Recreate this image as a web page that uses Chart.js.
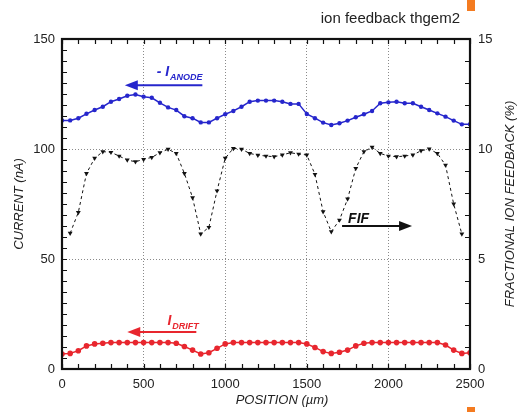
<!DOCTYPE html>
<html>
<head>
<meta charset="utf-8">
<script src="https://cdn.jsdelivr.net/npm/chart.js@4.4.1/dist/chart.umd.min.js"></script>
<style>
    body { margin: 0; background: #fff; }
    #wrap { position: relative; width: 521px; height: 412px; }
    .mark { position: absolute; left: 467px; width: 8px; background: #f47b20; }
</style>
</head>
<body>
<div id="wrap">
    <canvas id="chart" width="521" height="412"></canvas>
    <div class="mark" style="top:0;height:11px"></div>
    <div class="mark" style="top:407px;height:5px"></div>
</div>
<script>
// --- Data ---
const positions = [0, 50, 100, 150, 200, 250, 300, 350, 400, 450, 500, 550, 600, 650, 700, 750, 800, 850, 900, 950,
    1000, 1050, 1100, 1150, 1200, 1250, 1300, 1350, 1400, 1450, 1500, 1550, 1600, 1650, 1700, 1750, 1800, 1850, 1900, 1950,
    2000, 2050, 2100, 2150, 2200, 2250, 2300, 2350, 2400, 2450, 2500];

// - I anode (nA)
const anodeCurrent = [113, 113, 114, 116, 117.7, 119.2, 121.5, 122.7, 124.2, 124.8, 123.8, 123.3, 121, 118.9, 117.7, 114.9, 114, 112.1, 112.1, 114,
    115.8, 117.3, 119.2, 121.5, 122, 122, 122, 121.5, 120.5, 120.5, 115.9, 114, 112, 110.9, 111.7, 112.9, 114.4, 115.8, 117.3, 120.8,
    121.2, 121.5, 120.8, 120.8, 119.2, 117.7, 116.2, 114.7, 112.9, 111.2, 111.3];

// I drift (nA)
const driftCurrent = [6.8, 7.1, 8.3, 10.5, 11.4, 11.7, 12, 12, 12, 12, 12, 12, 12, 12, 11.7, 10.2, 8.6, 6.8, 7.4, 9.4,
    11.4, 12, 12, 12, 12, 12, 12, 12, 12, 12, 11.4, 9.8, 7.9, 7.1, 7.6, 8.6, 10.5, 11.7, 12, 12,
    12, 12, 12, 12, 12, 12, 12, 10.9, 8.6, 7.1, 7.4];

// FIF (%), measured from 50 to 2450 um
const fifPositions = [50, 100, 150, 200, 250, 300, 350, 400, 450, 500, 550, 600, 650, 700, 750, 800, 850, 900, 950,
    1000, 1050, 1100, 1150, 1200, 1250, 1300, 1350, 1400, 1450, 1500, 1550, 1600, 1650, 1700, 1750, 1800, 1850, 1900, 1950,
    2000, 2050, 2100, 2150, 2200, 2250, 2300, 2350, 2400, 2450];
const fifValues = [6.17, 7.12, 8.89, 9.58, 9.88, 9.85, 9.68, 9.5, 9.42, 9.53, 9.62, 9.83, 9.99, 9.8, 8.89, 7.79, 6.14, 6.44, 8.1,
    9.58, 10.03, 9.99, 9.8, 9.72, 9.68, 9.65, 9.73, 9.83, 9.77, 9.73, 8.85, 7.15, 6.24, 6.77, 7.73, 9.12, 9.88, 10.08, 9.8,
    9.68, 9.65, 9.68, 9.73, 9.92, 10, 9.8, 9.27, 7.5, 6.14];

// --- Styles ---
const BLUE = '#2626cc';
const RED = '#e8262e';
const BLACK = '#111111';
const FONT = '"Liberation Sans", Arial, sans-serif';

const toPoints = (xs, ys) => xs.map((x, i) => ({ x: x, y: ys[i] }));

// Arrows and labels (data units)
const annotations = [
    { axis: 'y', color: BLUE, from: 860, to: 385, at: 129, label: '- I', sub: 'ANODE', lx: 580, ly: 133.3 },
    { axis: 'y2', color: BLACK, from: 1716, to: 2145, at: 6.5, label: 'FIF', sub: '', lx: 1753, ly: 6.64 },
    { axis: 'y', color: RED, from: 823, to: 400, at: 16.8, label: 'I', sub: 'DRIFT', lx: 646, ly: 20 }
];

// --- Plugin: frame, inner ticks, titles, arrows ---
const decorPlugin = {
    id: 'decor',
    afterDraw(chart) {
        const { ctx, chartArea: a, scales } = chart;
        const sx = scales.x, sy = scales.y, sy2 = scales.y2;
        ctx.save();

        // inner minor ticks
        ctx.strokeStyle = BLACK;
        ctx.lineWidth = 1.2;
        ctx.beginPath();
        for (let v = 0; v <= 2500; v += 100) {
            const px = Math.round(sx.getPixelForValue(v)) + 0.5;
            ctx.moveTo(px, a.bottom); ctx.lineTo(px, a.bottom - 5);
            ctx.moveTo(px, a.top); ctx.lineTo(px, a.top + 5);
        }
        for (let v = 0; v <= 150; v += 5) {
            const py = Math.round(sy.getPixelForValue(v)) + 0.5;
            ctx.moveTo(a.left, py); ctx.lineTo(a.left + 5, py);
        }
        for (let v = 0; v <= 15; v += 1) {
            const py = Math.round(sy2.getPixelForValue(v)) + 0.5;
            ctx.moveTo(a.right, py); ctx.lineTo(a.right - 5, py);
        }
        ctx.stroke();

        // frame
        ctx.lineWidth = 2.2;
        ctx.strokeRect(a.left, a.top, a.right - a.left, a.bottom - a.top);

        // arrows + labels
        annotations.forEach(an => {
            const ys = scales[an.axis];
            const x1 = sx.getPixelForValue(an.from);
            const x2 = sx.getPixelForValue(an.to);
            const y = ys.getPixelForValue(an.at);
            const dir = Math.sign(x2 - x1);
            ctx.strokeStyle = an.color;
            ctx.fillStyle = an.color;
            ctx.lineWidth = 2;
            ctx.beginPath();
            ctx.moveTo(x1, y);
            ctx.lineTo(x2 - dir * 8, y);
            ctx.stroke();
            ctx.beginPath();
            ctx.moveTo(x2, y);
            ctx.lineTo(x2 - dir * 13, y - 5);
            ctx.lineTo(x2 - dir * 13, y + 5);
            ctx.closePath();
            ctx.fill();

            const lx = sx.getPixelForValue(an.lx);
            const ly = ys.getPixelForValue(an.ly);
            ctx.textAlign = 'left';
            ctx.textBaseline = 'alphabetic';
            ctx.font = 'italic bold 14px ' + FONT;
            ctx.fillText(an.label, lx, ly);
            if (an.sub) {
                const w = ctx.measureText(an.label).width;
                ctx.font = 'italic bold 9px ' + FONT;
                ctx.fillText(an.sub, lx + w + 1, ly + 4);
            }
        });

        // titles
        ctx.fillStyle = '#222';
        ctx.font = '15px ' + FONT;
        ctx.textAlign = 'right';
        ctx.textBaseline = 'middle';
        ctx.fillText('ion feedback thgem2', 460, 19);

        ctx.font = 'italic 13px ' + FONT;
        ctx.textAlign = 'center';
        ctx.fillText('POSITION (µm)', 282, 400);

        const cy = (a.top + a.bottom) / 2;
        ctx.save();
        ctx.translate(19, cy);
        ctx.rotate(-Math.PI / 2);
        ctx.fillText('CURRENT (nA)', 0, 0);
        ctx.restore();

        ctx.save();
        ctx.translate(510, cy);
        ctx.rotate(-Math.PI / 2);
        ctx.fillText('FRACTIONAL ION FEEDBACK (%)', 0, 0);
        ctx.restore();

        ctx.restore();
    }
};

const tickFont = { family: FONT, size: 13 };
const gridOpts = { color: '#8a8a8a', lineWidth: 1, drawTicks: false };
const plainLabel = (v) => String(v);

new Chart(document.getElementById('chart'), {
    type: 'line',
    data: {
        datasets: [
            {
                label: '- I anode',
                data: toPoints(positions, anodeCurrent),
                yAxisID: 'y',
                borderColor: BLUE,
                backgroundColor: BLUE,
                borderWidth: 1.5,
                pointRadius: 2.2,
                pointBorderWidth: 0,
                tension: 0
            },
            {
                label: 'FIF',
                data: toPoints(fifPositions, fifValues),
                yAxisID: 'y2',
                borderColor: BLACK,
                backgroundColor: BLACK,
                borderWidth: 1,
                borderDash: [3, 3],
                pointStyle: 'triangle',
                pointRotation: 180,
                pointRadius: 2.8,
                pointBorderWidth: 0,
                tension: 0
            },
            {
                label: 'I drift',
                data: toPoints(positions, driftCurrent),
                yAxisID: 'y',
                borderColor: RED,
                backgroundColor: RED,
                borderWidth: 1.5,
                pointRadius: 2.8,
                pointBorderWidth: 0,
                tension: 0
            }
        ]
    },
    options: {
        responsive: false,
        devicePixelRatio: 1,
        animation: false,
        layout: { padding: { top: 39, left: 0, right: 0, bottom: 0 } },
        plugins: {
            legend: { display: false },
            tooltip: { enabled: false }
        },
        scales: {
            x: {
                type: 'linear',
                min: 0,
                max: 2500,
                ticks: { stepSize: 500, font: tickFont, color: '#222', padding: 8, maxRotation: 0, callback: plainLabel },
                grid: gridOpts,
                border: { display: true, width: 2, color: BLACK, dash: [1, 2] },
                afterFit: (s) => { s.height = 43; }
            },
            y: {
                position: 'left',
                min: 0,
                max: 150,
                ticks: { stepSize: 50, font: tickFont, color: '#222', padding: 7, callback: plainLabel },
                grid: gridOpts,
                border: { display: true, width: 2, color: BLACK, dash: [1, 2] },
                afterFit: (s) => { s.width = 62; }
            },
            y2: {
                position: 'right',
                min: 0,
                max: 15,
                ticks: { stepSize: 5, font: tickFont, color: '#222', padding: 8, callback: plainLabel },
                grid: { drawOnChartArea: false, drawTicks: false },
                border: { display: true, width: 2, color: BLACK },
                afterFit: (s) => { s.width = 51; }
            }
        }
    },
    plugins: [decorPlugin]
});
</script>
</body>
</html>
